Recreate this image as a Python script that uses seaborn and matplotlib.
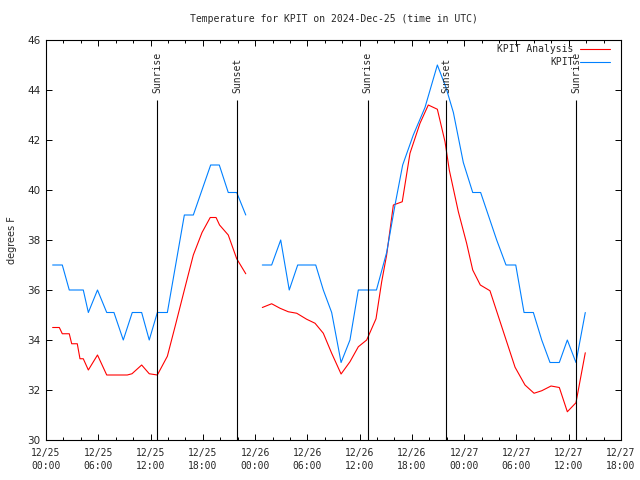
import pandas as pd
import matplotlib
matplotlib.use("Agg")
import matplotlib.pyplot as plt
import seaborn as sns

# Data (hours since 2024-12-25 00:00 UTC, degrees F)
# ==============================================================================
obs_hours_1 = [0.76, 1.87, 2.67, 4.28, 4.86, 5.91, 6.97, 7.80, 8.87, 9.90, 10.98,
               11.85, 12.78, 13.93, 14.88, 15.88, 16.91, 18.90, 19.89, 20.92,
               21.89, 22.93]
obs_temps_1 = [37.0, 37.0, 36.0, 36.0, 35.1, 36.0, 35.1, 35.1, 34.0, 35.1, 35.1,
               34.0, 35.1, 35.1, 37.0, 39.0, 39.0, 41.0, 41.0, 39.9,
               39.9, 39.0]
obs_hours_2 = [24.83, 25.90, 26.94, 27.92, 28.89, 30.96, 31.83, 32.79, 33.87,
               34.89, 35.85, 37.93, 39.10, 40.06, 40.94, 42.16, 43.50, 44.92,
               45.91, 46.76, 47.90, 48.98, 49.89, 51.73, 52.80, 53.92, 54.87,
               55.94, 56.90, 57.85, 58.92, 59.84, 60.83, 61.90]
obs_temps_2 = [37.0, 37.0, 38.0, 36.0, 37.0, 37.0, 36.0, 35.1, 33.1,
               34.0, 36.0, 36.0, 37.5, 39.4, 41.0, 42.2, 43.3, 45.0,
               44.1, 43.1, 41.1, 39.9, 39.9, 38.0, 37.0, 37.0, 35.1,
               35.1, 34.0, 33.1, 33.1, 34.0, 33.1, 35.1]

ana_hours_1 = [0.76, 1.53, 1.87, 2.67, 2.95, 3.59, 3.90, 4.28, 4.86, 5.91, 6.97,
               9.33, 9.87, 10.98, 11.85, 12.78, 13.93, 14.86, 15.88, 16.91,
               17.91, 18.85, 19.52, 19.92, 20.92, 21.89, 22.93]
ana_temps_1 = [34.5, 34.5, 34.25, 34.25, 33.85, 33.85, 33.25, 33.25, 32.8, 33.4, 32.6,
               32.6, 32.65, 33.0, 32.65, 32.6, 33.35, 34.6, 36.0, 37.4,
               38.3, 38.9, 38.9, 38.6, 38.2, 37.25, 36.65]
ana_hours_2 = [24.83, 25.90, 26.86, 27.81, 28.78, 29.92, 30.88, 31.83, 32.79,
               33.87, 34.89, 35.85, 36.81, 37.88, 38.53, 39.10, 39.87, 40.89,
               41.78, 42.93, 43.88, 44.92, 45.80, 46.29, 47.33, 48.28, 48.98,
               49.85, 50.96, 52.69, 53.84, 54.98, 56.02, 56.90, 57.97, 58.92,
               59.84, 60.83, 61.90]
ana_temps_2 = [35.3, 35.45, 35.27, 35.13, 35.07, 34.83, 34.67, 34.27, 33.47,
               32.64, 33.13, 33.73, 34.0, 34.85, 36.33, 37.4, 39.4, 39.53,
               41.47, 42.67, 43.4, 43.23, 41.93, 40.8, 39.13, 37.87, 36.8,
               36.2, 35.97, 34.13, 32.91, 32.2, 31.87, 31.97, 32.16, 32.1,
               31.13, 31.49, 33.49]

sun_hours = [12.78, 21.96, 36.92, 45.95, 60.87]
sun_labels = ["Sunrise", "Sunset", "Sunrise", "Sunset", "Sunrise"]

tick_hours = [0, 6, 12, 18, 24, 30, 36, 42, 48, 54, 60, 66]
tick_labels = ["12/25\n00:00", "12/25\n06:00", "12/25\n12:00", "12/25\n18:00",
               "12/26\n00:00", "12/26\n06:00", "12/26\n12:00", "12/26\n18:00",
               "12/27\n00:00", "12/27\n06:00", "12/27\n12:00", "12/27\n18:00"]


# Tables
# ==============================================================================
def seg_frame(hours, temps, seg):
    return pd.DataFrame({"hour": hours, "temp": temps, "seg": seg})


obs = pd.concat([seg_frame(obs_hours_1, obs_temps_1, 1),
                 seg_frame(obs_hours_2, obs_temps_2, 2)])
ana = pd.concat([seg_frame(ana_hours_1, ana_temps_1, 1),
                 seg_frame(ana_hours_2, ana_temps_2, 2)])

RED = "#ff0000"
BLUE = "#0080ff"
MONO = "DejaVu Sans Mono"

sns.set_theme(style="white")
plt.rcParams["font.family"] = [MONO, "DejaVu Sans"]

fig = plt.figure(figsize=(6.4, 4.8), dpi=100)
ax = fig.add_axes([46 / 640, 40 / 480, 575 / 640, 400 / 480])

sns.lineplot(data=ana, x="hour", y="temp", units="seg", estimator=None,
             color=RED, linewidth=0.8, ax=ax, legend=False)
sns.lineplot(data=obs, x="hour", y="temp", units="seg", estimator=None,
             color=BLUE, linewidth=0.8, ax=ax, legend=False)

# sunrise / sunset markers
for h, lab in zip(sun_hours, sun_labels):
    ax.vlines(h, 30, 43.62, color="black", linewidth=0.8)
    ax.text(h, 43.88, lab, rotation=90, ha="center", va="bottom",
            fontsize=7, family=MONO)

ax.set_xlim(0, 66)
ax.set_ylim(30, 46)
ax.set_xticks(tick_hours)
ax.set_xticklabels(tick_labels, fontsize=7, family=MONO, linespacing=1.35)
ax.set_xticks(range(0, 67, 2), minor=True)
ax.set_yticks(range(30, 47, 2))
ax.set_yticklabels([str(v) for v in range(30, 47, 2)], fontsize=7.5,
                   family="DejaVu Sans")
ax.tick_params(which="both", direction="in", top=True, right=True,
               bottom=True, left=True, color="black", width=0.7)
ax.tick_params(which="major", length=4)
ax.tick_params(axis="x", which="major", pad=6)
ax.tick_params(axis="y", which="major", pad=4)
ax.tick_params(which="minor", length=2.2)
ax.tick_params(axis="y", which="minor", left=False, right=False)
for sp in ax.spines.values():
    sp.set_color("black")
    sp.set_linewidth(0.8)

ax.set_xlabel("")
ax.set_ylabel("degrees F", fontsize=7, family="DejaVu Sans")
ax.yaxis.set_label_coords(-0.051, 0.5)

ax.text(0.5, 1.0525, "Temperature for KPIT on 2024-Dec-25 (time in UTC)",
        transform=ax.transAxes, ha="center", va="center", fontsize=7, family=MONO)

# gnuplot-style key: label right aligned, sample line after it
for i, (lab, col) in enumerate([("KPIT Analysis", RED), ("KPIT", BLUE)]):
    y = 0.9775 - i * 0.0325
    ax.text(0.918, y, lab, transform=ax.transAxes, ha="right", va="center",
            fontsize=7, family=MONO)
    ax.plot([0.929, 0.981], [y, y], transform=ax.transAxes, color=col,
            linewidth=0.8)

fig.savefig("out.png", dpi=100)
